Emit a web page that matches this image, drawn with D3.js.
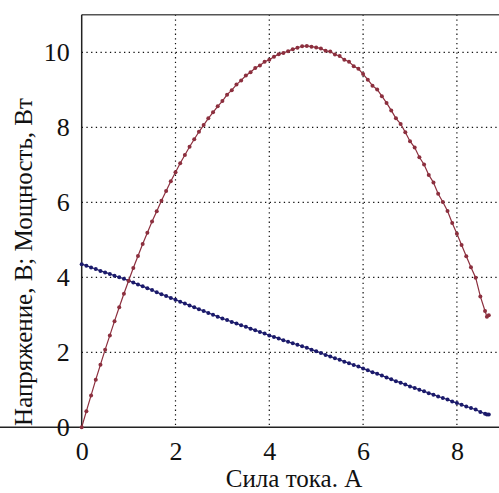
<!DOCTYPE html>
<html>
<head>
<meta charset="utf-8">
<script src="https://cdn.jsdelivr.net/npm/d3@7"></script>
<style>
  html, body { margin: 0; padding: 0; background: #fff; }
  svg { display: block; }
</style>
</head>
<body>
<div id="chart"></div>
<script>
// сила тока, А
const current = [
  0, 0.1, 0.2, 0.3, 0.4, 0.5, 0.6, 0.7, 0.8, 0.9,
  1.0, 1.1, 1.2, 1.3, 1.4, 1.5, 1.6, 1.7, 1.8, 1.9,
  2.0, 2.1, 2.2, 2.3, 2.4, 2.5, 2.6, 2.7, 2.8, 2.9,
  3.0, 3.1, 3.2, 3.3, 3.4, 3.5, 3.6, 3.7, 3.8, 3.9,
  4.0, 4.1, 4.2, 4.3, 4.4, 4.5, 4.6, 4.7, 4.8, 4.9,
  5.0, 5.1, 5.2, 5.3, 5.4, 5.5, 5.6, 5.7, 5.8, 5.9,
  6.0, 6.1, 6.2, 6.3, 6.4, 6.5, 6.6, 6.7, 6.8, 6.9,
  7.0, 7.1, 7.2, 7.3, 7.4, 7.5, 7.6, 7.7, 7.8, 7.9,
  8.0, 8.1, 8.2, 8.3, 8.4, 8.5, 8.6, 8.64, 8.68
];
// напряжение, В
const voltage = [
  4.35, 4.31, 4.26, 4.22, 4.17, 4.13, 4.09, 4.04, 4.00, 3.96,
  3.91, 3.86, 3.81, 3.76, 3.71, 3.66, 3.60, 3.55, 3.50, 3.45,
  3.40, 3.35, 3.30, 3.25, 3.20, 3.15, 3.10, 3.05, 3.00, 2.95,
  2.90, 2.86, 2.81, 2.77, 2.72, 2.68, 2.63, 2.59, 2.54, 2.50,
  2.45, 2.41, 2.37, 2.32, 2.28, 2.24, 2.20, 2.16, 2.12, 2.07,
  2.03, 1.98, 1.93, 1.89, 1.84, 1.80, 1.75, 1.71, 1.66, 1.62,
  1.57, 1.52, 1.47, 1.43, 1.38, 1.33, 1.28, 1.23, 1.19, 1.14,
  1.09, 1.05, 1.00, 0.96, 0.91, 0.87, 0.82, 0.78, 0.74, 0.69,
  0.645, 0.60, 0.556, 0.515, 0.475, 0.41, 0.36, 0.342, 0.344
];
// мощность, Вт
const power = [
  0, 0.43, 0.85, 1.27, 1.67, 2.07, 2.45, 2.83, 3.20, 3.56,
  3.91, 4.25, 4.57, 4.89, 5.19, 5.49, 5.76, 6.04, 6.30, 6.56,
  6.80, 7.04, 7.26, 7.48, 7.68, 7.88, 8.06, 8.24, 8.40, 8.56,
  8.70, 8.87, 8.99, 9.14, 9.25, 9.38, 9.47, 9.58, 9.65, 9.75,
  9.80, 9.88, 9.95, 9.98, 10.03, 10.08, 10.12, 10.16, 10.17, 10.15,
  10.13, 10.10, 10.04, 10.02, 9.94, 9.90, 9.80, 9.75, 9.63, 9.56,
  9.42, 9.27, 9.11, 9.01, 8.83, 8.65, 8.45, 8.24, 8.09, 7.87,
  7.63, 7.46, 7.20, 7.01, 6.73, 6.53, 6.23, 6.01, 5.77, 5.45,
  5.16, 4.86, 4.56, 4.27, 3.99, 3.49, 3.10, 2.95, 2.99
];
const xTicks = [0, 2, 4, 6, 8];
const yTicks = [0, 2, 4, 6, 8, 10];
const xTitle = 'Сила тока. А';
const yTitle = 'Напряжение, В; Мощность, Вт';

const W = 499, H = 493;
const font = '"Liberation Serif", "Times New Roman", serif';
const colorU = '#1b1a6b';
const colorP = '#8c2f3e';

const x = d3.scaleLinear().domain([0, 9]).range([81.7, 503.8]);
const y = d3.scaleLinear().domain([0, 11]).range([427.3, 14.8]);

const svg = d3.select('#chart').append('svg')
  .attr('width', W).attr('height', H);

// сетка
const grid = svg.append('g')
  .attr('stroke', '#111').attr('stroke-width', 1.2)
  .attr('stroke-dasharray', '1.3,3.4');
grid.selectAll('.gx').data(xTicks.filter(d => d > 0)).join('line')
  .attr('x1', d => x(d)).attr('x2', d => x(d))
  .attr('y1', y(11)).attr('y2', y(0));
grid.selectAll('.gy').data(yTicks.filter(d => d > 0)).join('line')
  .attr('x1', x(0)).attr('x2', W)
  .attr('y1', d => y(d)).attr('y2', d => y(d));

// рамка
svg.append('line').attr('x1', x(0)).attr('x2', W)
  .attr('y1', y(11)).attr('y2', y(11))
  .attr('stroke', '#555').attr('stroke-width', 1.5);

// оси
const xAxis = svg.append('g')
  .attr('transform', `translate(0,${y(0)})`)
  .call(d3.axisBottom(x).tickValues(xTicks).tickSize(0).tickPadding(14));
const yAxis = svg.append('g')
  .attr('transform', `translate(${x(0)},0)`)
  .call(d3.axisLeft(y).tickValues(yTicks).tickSize(0).tickPadding(12));
[xAxis, yAxis].forEach(a => {
  a.attr('font-family', null).attr('font-size', null);
  a.select('.domain').attr('stroke', '#222').attr('stroke-width', 1.5);
  a.selectAll('.tick text')
    .style('font-family', font).style('font-size', '26px').attr('fill', '#111');
});
xAxis.select('.domain').attr('d', `M0,0H${W}`);
yAxis.select('.domain').attr('d', `M0,${y(0)}V${y(11)}`);

// линии
const pts = current.map((c, i) => ({ i: c, u: voltage[i], p: power[i] }));
const lineU = d3.line().x(d => x(d.i)).y(d => y(d.u));
const lineP = d3.line().x(d => x(d.i)).y(d => y(d.p));

svg.append('path').datum(pts).attr('d', lineU)
  .attr('fill', 'none').attr('stroke', colorU).attr('stroke-width', 1.2);
svg.append('g').selectAll('circle').data(pts).join('circle')
  .attr('cx', d => x(d.i)).attr('cy', d => y(d.u)).attr('r', 2)
  .attr('fill', colorU);

svg.append('path').datum(pts).attr('d', lineP)
  .attr('fill', 'none').attr('stroke', colorP).attr('stroke-width', 1.2);
svg.append('g').selectAll('circle').data(pts).join('circle')
  .attr('cx', d => x(d.i)).attr('cy', d => y(d.p)).attr('r', 2)
  .attr('fill', colorP);

// подписи осей
svg.append('text')
  .attr('x', 294).attr('y', 487)
  .attr('text-anchor', 'middle')
  .style('font-family', font).style('font-size', '25px').attr('fill', '#111')
  .text(xTitle);
svg.append('text')
  .attr('transform', `translate(32,262) rotate(-90)`)
  .attr('text-anchor', 'middle')
  .style('font-family', font).style('font-size', '25px').attr('fill', '#111')
  .text(yTitle);
</script>
</body>
</html>
